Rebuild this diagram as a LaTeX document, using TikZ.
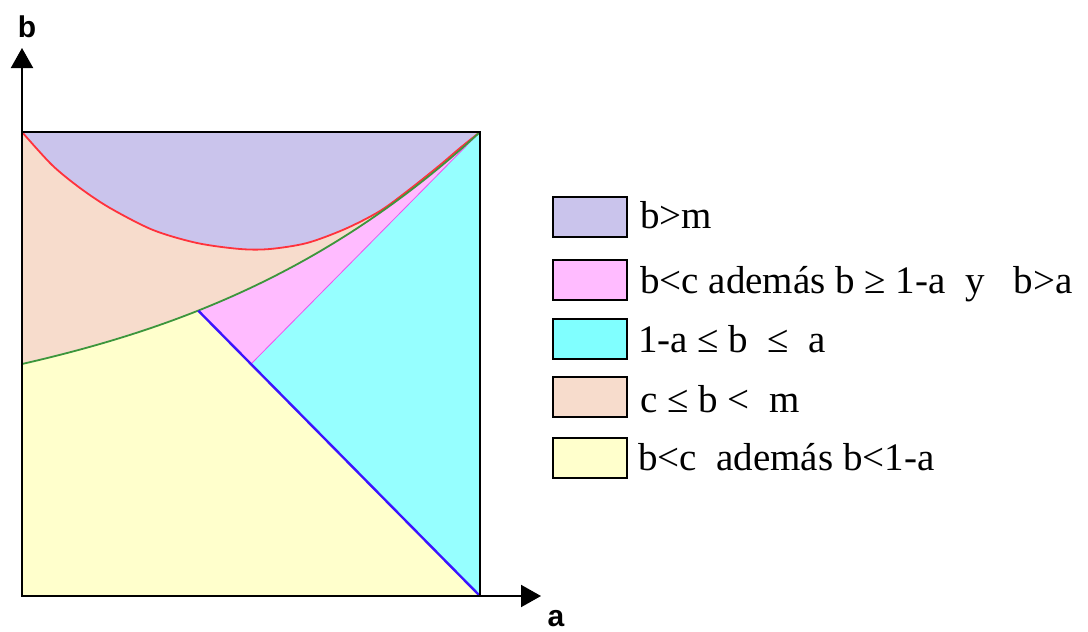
\documentclass[tikz,border=0pt]{standalone}
\usepackage{fontspec}
\setmainfont{Liberation Serif}
\newfontfamily\axisfont{Liberation Sans}
\usetikzlibrary{arrows.meta}
\definecolor{lav}{RGB}{202,196,236}
\definecolor{peach}{RGB}{247,220,204}
\definecolor{pinkr}{RGB}{255,187,255}
\definecolor{cyanr}{RGB}{150,255,255}
\definecolor{cyanleg}{RGB}{128,255,255}
\definecolor{yel}{RGB}{255,255,204}
\definecolor{redc}{RGB}{255,50,60}
\definecolor{greenc}{RGB}{60,150,60}
\definecolor{bluec}{RGB}{60,20,255}
\definecolor{magc}{RGB}{240,80,240}
\tikzset{
  legbox/.style={draw=black, line width=1.6pt, minimum width=74pt, minimum height=40pt, inner sep=0pt},
  legtext/.style={anchor=base west, inner sep=0pt, font=\fontsize{39}{44}\selectfont},
  axlabel/.style={inner sep=0pt, font=\axisfont\bfseries\fontsize{30}{34}\selectfont},
  axisline/.style={black, line width=2pt, -{Triangle[length=20pt,width=22pt]}},
  curve/.style={line width=1.8pt}
}
\def\redcurve{plot[smooth] coordinates {(22,132) (52,165) (80,188) (110,208) (153,230) (197,243) (240,249) (270,249) (307,243) (345,229) (380,211) (410,189) (440,165) (460,148) (480,132)}}
\begin{document}
\begin{tikzpicture}[x=1pt,y=-1pt,
  declare function={gy(\x)=364-232*(0.452*((\x-22)/458)+0.276*((\x-22)/458)^2+0.272*((\x-22)/458)^3);}]
\useasboundingbox (0,0) rectangle (1088,632);
\coordinate (O) at (22,596);
\coordinate (TL) at (22,132);
\coordinate (TR) at (480,132);
\coordinate (BR) at (480,596);
\coordinate (C) at (251,364);
\coordinate (bs) at (198.3,310.7);
\coordinate (ytip) at (22,48);
\coordinate (xtip) at (541,596);
% regions
\fill[lav] (TL) rectangle (BR);
\fill[peach] plot[smooth] coordinates {(22,132) (52,165) (80,188) (110,208) (153,230) (197,243) (240,249) (270,249) (307,243) (345,229) (380,211) (410,189) (440,165) (460,148) (480,132)} -- (BR) -- (O) -- cycle;
\fill[pinkr] plot[domain=22:480, samples=90] (\x,{gy(\x)}) -- (BR) -- (O) -- cycle;
\begin{scope}
\clip (O) -- (BR) -- (TL) -- cycle;
\fill[yel] plot[domain=22:480, samples=90] (\x,{gy(\x)}) -- (BR) -- (O) -- cycle;
\end{scope}
\fill[cyanr] (TR) -- (C) -- (BR) -- cycle;
% boundary lines
\draw[magc, line width=0.8pt] (C) -- (TR);
\draw[redc, curve] plot[smooth] coordinates {(22,132) (52,165) (80,188) (110,208) (153,230) (197,243) (240,249) (270,249) (307,243) (345,229) (380,211) (410,189) (440,165) (460,148) (480,132)};
\draw[greenc, curve] plot[domain=22:480, samples=90] (\x,{gy(\x)});
\draw[bluec, line width=2.4pt] (bs) -- (BR);
% frame and axes
\draw[black, line width=2pt] (TL) rectangle (BR);
\draw[axisline] (O) -- (ytip);
\draw[axisline] (O) -- (xtip);
\node[axlabel] (lb) at (27,27) {b};
\node[axlabel] (la) at (556,619) {a};
% legend
\node[legbox, fill=lav] (k1) at (590,217) {};
\node[legbox, fill=pinkr] (k2) at (590,280) {};
\node[legbox, fill=cyanleg] (k3) at (590,339) {};
\node[legbox, fill=peach] (k4) at (590,397) {};
\node[legbox, fill=yel] (k5) at (590,458) {};
\node[legtext] (t1) at (640,228) {b>m};
\node[legtext] (t2) at (640,293) {b<c además b ≥ 1-a\ \ y\ \ \ b>a};
\node[legtext] (t3) at (638,352) {1-a ≤ b\ \ ≤\ \ a};
\node[legtext] (t4) at (640,412) {c ≤ b <\ \ m};
\node[legtext] (t5) at (638,470) {b<c\ \ además b<1-a};
\end{tikzpicture}
\end{document}
